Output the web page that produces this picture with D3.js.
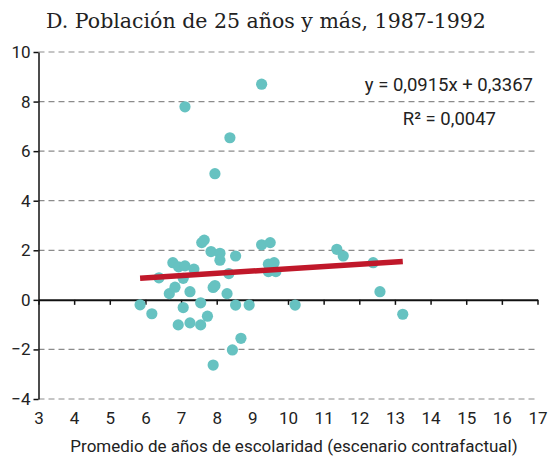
<!DOCTYPE html>
<html>
<head>
<meta charset="utf-8">
<script src="https://cdn.jsdelivr.net/npm/d3@7"></script>
<style>
  body { margin: 0; background: #fff; }
  svg { display: block; }
  .tick text, .lbl { font-family: "Liberation Sans Narrow", "Roboto", sans-serif; fill: #222; }
  .grid line { stroke: #8c8c8c; stroke-dasharray: 6,4; stroke-width: 1.2; }
</style>
</head>
<body>
<svg id="chart" width="549" height="460"></svg>
<script>
// escolaridad contrafactual (x) vs variable (y)
var xs = [5.85, 6.18, 6.38, 6.67, 6.83, 6.77, 6.93, 7.11, 7.36, 7.06, 7.25, 7.06, 6.92, 7.25, 7.55, 7.55,
          7.74, 7.58, 7.65, 7.84, 8.09, 8.09, 8.53, 8.34, 7.90, 7.95, 8.29, 8.53, 8.91, 9.26, 9.50, 9.45,
          9.61, 9.45, 9.66, 10.20, 11.37, 11.55, 12.39, 12.58, 13.22, 8.68, 8.44, 7.90, 9.26, 7.11, 8.37, 7.95];
var ys = [-0.20, -0.56, 0.89, 0.25, 0.51, 1.50, 1.33, 1.37, 1.24, 0.87, 0.33, -0.31, -1.01, -0.93, -1.01, -0.12,
          -0.66, 2.31, 2.41, 1.95, 1.88, 1.60, 1.77, 1.06, 0.50, 0.58, 0.25, -0.21, -0.21, 2.22, 2.31, 1.44,
          1.50, 1.14, 1.14, -0.21, 2.04, 1.77, 1.50, 0.33, -0.58, -1.55, -2.02, -2.63, 8.70, 7.79, 6.54, 5.09];
var slope = 0.0915, intercept = 0.3367;
var xTicks = d3.range(3, 18);
var yTicks = [-4, -2, 0, 2, 4, 6, 8, 10];

var svg = d3.select("#chart");
var x = d3.scaleLinear().domain([3, 17]).range([38.5, 537.5]);
var y = d3.scaleLinear().domain([-4, 10]).range([399, 52]);

svg.append("text")
    .attr("x", 266).attr("y", 28)
    .attr("text-anchor", "middle")
    .style("font-family", "'DejaVu Serif', serif")
    .style("font-size", "20.5px")
    .style("fill", "#222")
    .text("D. Población de 25 años y más, 1987-1992");

// dashed grid
svg.append("g").attr("class", "grid")
  .selectAll("line")
  .data(yTicks.filter(function(d) { return d != 0; }))
  .enter().append("line")
    .attr("x1", x(3)).attr("x2", x(17))
    .attr("y1", function(d) { return y(d); })
    .attr("y2", function(d) { return y(d); });

// y axis
var yAxis = svg.append("g")
    .attr("transform", "translate(" + x(3) + ",0)")
    .call(d3.axisLeft(y).tickValues(yTicks).tickSize(5).tickPadding(3).tickSizeOuter(0));
yAxis.select(".domain").attr("stroke", "#111").attr("stroke-width", 1.5);
yAxis.selectAll(".tick line").attr("stroke", "#111").attr("stroke-width", 1.5);
yAxis.selectAll(".tick text").style("font-size", "17px");

// zero line with ticks
var zAxis = svg.append("g")
    .attr("transform", "translate(0," + y(0) + ")")
    .call(d3.axisBottom(x).tickValues(xTicks).tickSize(5).tickSizeOuter(0).tickFormat(""));
zAxis.select(".domain").attr("stroke", "#111").attr("stroke-width", 2);
zAxis.selectAll(".tick line").attr("stroke", "#111").attr("stroke-width", 1.5);

// x labels at bottom
var xAxis = svg.append("g")
    .attr("transform", "translate(0," + y(-4) + ")")
    .call(d3.axisBottom(x).tickValues(xTicks).tickSize(0).tickPadding(13));
xAxis.select(".domain").remove();
xAxis.selectAll(".tick text").style("font-size", "17px");

svg.append("text").attr("class", "lbl")
    .attr("x", 294).attr("y", 452)
    .attr("text-anchor", "middle")
    .style("font-size", "17px")
    .text("Promedio de años de escolaridad (escenario contrafactual)");

// points
svg.append("g").selectAll("circle")
    .data(xs)
    .enter().append("circle")
    .attr("cx", function(d) { return x(d); })
    .attr("cy", function(d, i) { return y(ys[i]); })
    .attr("r", 5.6)
    .attr("fill", "#66c2c1");

// trend line
var x0 = d3.min(xs), x1 = d3.max(xs);
svg.append("line")
    .attr("x1", x(x0)).attr("y1", y(slope * x0 + intercept))
    .attr("x2", x(x1)).attr("y2", y(slope * x1 + intercept))
    .attr("stroke", "#c0182a")
    .attr("stroke-width", 5.5);

svg.append("text").attr("class", "lbl")
    .attr("x", 533).attr("y", 91)
    .attr("text-anchor", "end")
    .style("font-size", "18.5px")
    .text("y = 0,0915x + 0,3367");
svg.append("text").attr("class", "lbl")
    .attr("x", 496).attr("y", 125)
    .attr("text-anchor", "end")
    .style("font-size", "18.5px")
    .text("R² = 0,0047");
</script>
</body>
</html>
